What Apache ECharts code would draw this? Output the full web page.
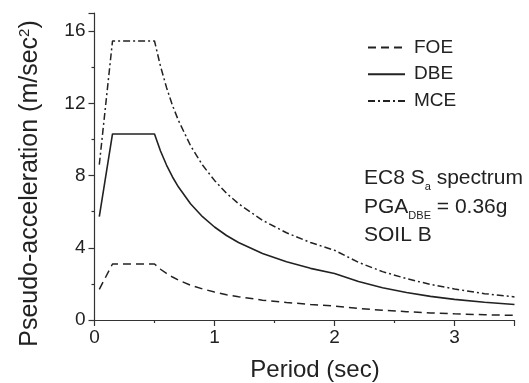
<!DOCTYPE html>
<html>
<head>
<meta charset="utf-8">
<script src="https://cdn.jsdelivr.net/npm/echarts@6/dist/echarts.min.js"></script>
<style>html,body{margin:0;padding:0;background:#fff}#c{width:529px;height:383px}</style>
</head>
<body>
<div id="c"></div>
<script>
// Period (sec)
var periods = [0.04, 0.15, 0.5, 0.55, 0.6, 0.65, 0.7, 0.8, 0.9, 1.0, 1.1, 1.2, 1.4, 1.6, 1.8, 2.0, 2.2, 2.4, 2.6, 2.8, 3.0, 3.25, 3.5];
// Pseudo-acceleration (m/sec^2)
var foe = [1.7, 3.1, 3.1, 2.81, 2.58, 2.38, 2.21, 1.93, 1.72, 1.55, 1.40, 1.29, 1.10, 0.97, 0.86, 0.77, 0.64, 0.54, 0.46, 0.39, 0.34, 0.29, 0.26];
var dbe = [5.72, 10.3, 10.3, 9.36, 8.58, 7.92, 7.36, 6.44, 5.72, 5.15, 4.68, 4.29, 3.68, 3.22, 2.86, 2.58, 2.13, 1.79, 1.52, 1.31, 1.14, 0.98, 0.86];
var mce = [8.6, 15.45, 15.45, 14.05, 12.88, 11.88, 11.04, 9.66, 8.58, 7.73, 7.02, 6.44, 5.52, 4.83, 4.29, 3.86, 3.19, 2.68, 2.29, 1.97, 1.72, 1.46, 1.28];
var seriesNames = ['FOE', 'DBE', 'MCE'];
var xTicks = [0, 1, 2, 3];
var yTicks = [0, 4, 8, 12, 16];

function pairs(ys) { return periods.map(function (p, i) { return [p, ys[i]]; }); }

var FONT = '"Liberation Sans", Arial, sans-serif';
var INK = '#222';
var chart = echarts.init(document.getElementById('c'), null, {renderer: 'canvas'});
chart.setOption({
  animation: false,
  backgroundColor: '#fff',
  grid: {left: 94.5, right: 14.5, top: 13, bottom: 63, containLabel: false},
  xAxis: {
    type: 'value', min: 0, max: 3.5, interval: 1,
    axisLine: {show: true, lineStyle: {color: '#333', width: 1.2}},
    axisTick: {show: true, length: 6, lineStyle: {color: '#333', width: 1.2}},
    minorTick: {show: true, splitNumber: 2, length: 3, lineStyle: {color: '#333', width: 1.2}},
    splitLine: {show: false},
    axisLabel: {fontFamily: FONT, fontSize: 19, color: INK, margin: 8,
      formatter: function (v) { return xTicks.indexOf(v) >= 0 ? String(v) : ''; }}
  },
  yAxis: {
    type: 'value', min: 0, max: 17, interval: 4,
    axisLine: {show: true, lineStyle: {color: '#333', width: 1.2}},
    axisTick: {show: true, length: 6, lineStyle: {color: '#333', width: 1.2}},
    minorTick: {show: true, splitNumber: 2, length: 3, lineStyle: {color: '#333', width: 1.2}},
    splitLine: {show: false},
    axisLabel: {fontFamily: FONT, fontSize: 19, color: INK, margin: 9,
      formatter: function (v) { return yTicks.indexOf(v) >= 0 ? String(v) : ''; }}
  },
  legend: {
    orient: 'vertical', left: 362, top: 33,
    itemWidth: 37, itemHeight: 14, itemGap: 7.7,
    data: seriesNames,
    itemStyle: {opacity: 0, color: 'transparent', borderColor: 'transparent', borderWidth: 0},
    textStyle: {fontFamily: FONT, fontSize: 19, color: INK, padding: [0, 0, 0, 4]}
  },
  series: [
    {name: seriesNames[0], type: 'line', data: pairs(foe), symbol: 'none', color: INK,
      lineStyle: {color: INK, width: 1.5, type: [8, 5]}},
    {name: seriesNames[1], type: 'line', data: pairs(dbe), symbol: 'none', color: INK,
      lineStyle: {color: INK, width: 1.6, type: 'solid'}},
    {name: seriesNames[2], type: 'line', data: pairs(mce), symbol: 'none', color: INK,
      lineStyle: {color: INK, width: 1.5, type: [7, 3, 2, 3]}}
  ],
  graphic: [
    {type: 'text', x: 30, y: 183.5, rotation: Math.PI / 2,
      style: {text: 'Pseudo-acceleration (m/sec{sup|2})', fontFamily: FONT, fontSize: 25, fill: INK,
        align: 'center', verticalAlign: 'middle',
        rich: {sup: {fontFamily: FONT, fontSize: 15, fill: INK, verticalAlign: 'top', padding: [0, 0, 10, 0]}}}},
    {type: 'text', x: 315, y: 370,
      style: {text: 'Period (sec)', fontFamily: FONT, fontSize: 24, fill: INK, align: 'center', verticalAlign: 'middle'}},
    {type: 'text', x: 364, y: 164,
      style: {text: 'EC8 S{sub|a} spectrum\nPGA{sub|DBE} = 0.36g\nSOIL B', fontFamily: FONT, fontSize: 21, fill: INK,
        lineHeight: 28.5, align: 'left', verticalAlign: 'top',
        rich: {sub: {fontFamily: FONT, fontSize: 11, fill: INK, verticalAlign: 'bottom', lineHeight: 11, padding: [15, 0, 0, 0]}}}}
  ]
});
</script>
</body>
</html>
